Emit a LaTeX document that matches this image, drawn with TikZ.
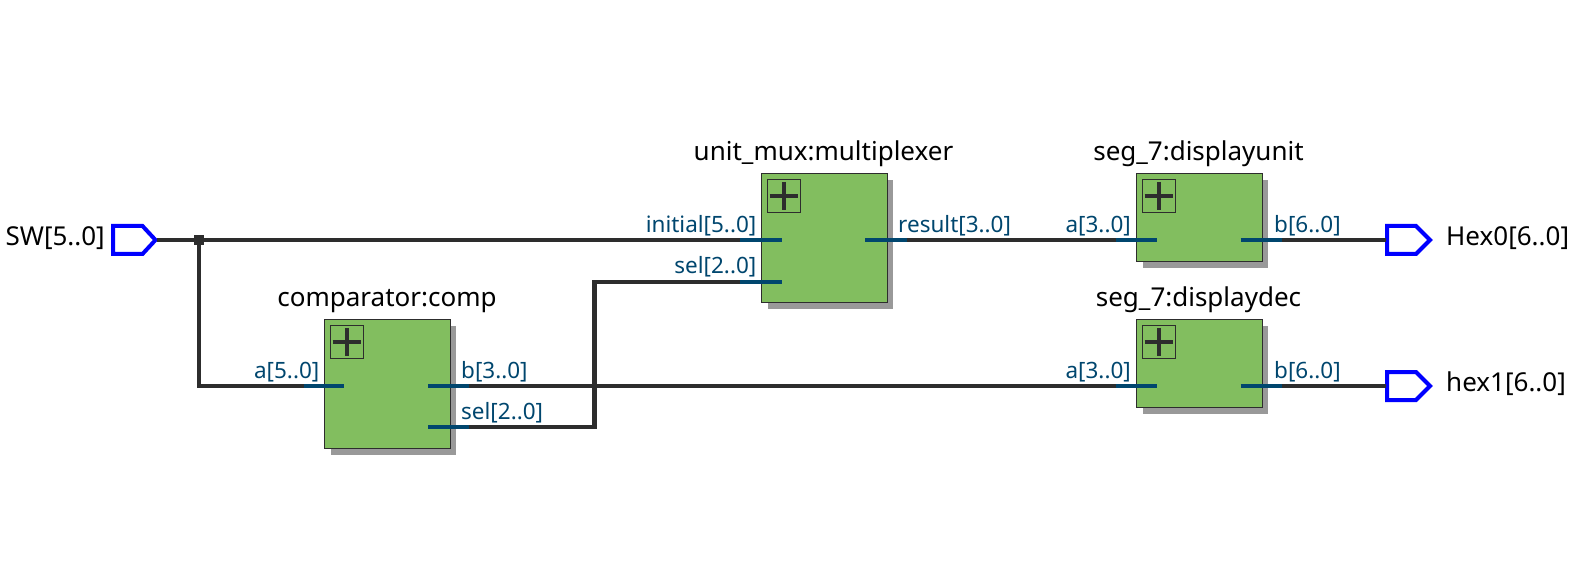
\documentclass[tikz,border=0pt]{standalone}
\usepackage{fontspec}
\setmainfont{Noto Sans}
\definecolor{wirec}{HTML}{2D2D2D}
\definecolor{portc}{HTML}{00466E}
\definecolor{blockc}{HTML}{82BE5F}
\definecolor{shadowc}{HTML}{999999}
\definecolor{pinc}{HTML}{0000FF}
\newcommand{\titlefont}{\fontsize{26}{30}\selectfont}
\newcommand{\ionamefont}{\fontsize{26}{30}\selectfont}
\newcommand{\portfont}{\fontsize{22.5}{26}\selectfont\color{portc}}
\tikzset{
  x=1pt,y=-1pt,
  wire/.style={draw=wirec,line width=4.4pt},
  stub/.style={draw=portc,line width=4.4pt},
  blockbox/.style={draw=wirec,line width=1pt,fill=blockc,rectangle,minimum width=#1,inner sep=0pt,anchor=north west},
  blockshadow/.style={fill=shadowc,draw=none},
  plusbox/.style={draw=wirec,line width=1pt,fill=none,rectangle,minimum size=33pt,inner sep=0pt,anchor=north west},
  plusbar/.style={draw=wirec,line width=4pt},
  pinshape/.style={draw=pinc,line width=4pt,fill=white,miter limit=4},
  titlelabel/.style={anchor=base,inner sep=0pt,font=\titlefont,text=black},
  pinlabel/.style={inner sep=0pt,font=\ionamefont,text=black},
  portlabel/.style={inner sep=0pt,font=\portfont},
  junction/.style={fill=wirec,draw=none,rectangle,minimum size=10pt,inner sep=0pt}
}
% \blockat{name}{x}{y}{w}{h}{title}{titlecx}{titlebaseline}
\newcommand{\blockat}[8]{%
  \fill[blockshadow] (#2+6.5,#3+6.5) rectangle (#2+#4+6.5,#3+#5+6.5);
  \node[blockbox=#4pt,minimum height=#5pt] (#1) at (#2,#3) {};
  \node[plusbox] (#1plus) at (#2+6,#3+6) {};
  \draw[plusbar] (#2+8.5,#3+22.5) -- (#2+36.5,#3+22.5);
  \draw[plusbar] (#2+22.5,#3+8.5) -- (#2+22.5,#3+36.5);
  \node[titlelabel] (#1title) at (#7,#8) {#6};
}
\begin{document}
\begin{tikzpicture}
\useasboundingbox (0,0) rectangle (1590,561);
% blocks
\blockat{comp}{324}{319.3}{125.5}{129}{comparator:comp}{387}{306.5}
\blockat{mux}{761}{173.3}{125.5}{129}{unit\_mux:multiplexer}{823.5}{160.7}
\blockat{unit}{1136.2}{173.3}{125.5}{88}{seg\_7:displayunit}{1198.5}{160.7}
\blockat{dec}{1136.2}{319.3}{125.5}{88}{seg\_7:displaydec}{1198.5}{306.5}
% pins
\draw[pinshape] (113,226) -- (142.5,226) -- (155.5,240) -- (142.5,254) -- (113,254) -- cycle;
\coordinate (swout) at (157,240);
\draw[pinshape] (1387,226) -- (1416,226) -- (1430,240) -- (1416,254) -- (1387,254) -- cycle;
\coordinate (hexzero) at (1385.5,240);
\draw[pinshape] (1387,372) -- (1416,372) -- (1430,386) -- (1416,400) -- (1387,400) -- cycle;
\coordinate (hexone) at (1385.5,386);
% port stubs ends
\coordinate (muxiniA) at (740,240);  \coordinate (muxiniB) at (782,240);
\coordinate (muxselA) at (740,282);  \coordinate (muxselB) at (782,282);
\coordinate (muxresA) at (865,240);  \coordinate (muxresB) at (907,240);
\coordinate (compaA) at (303.5,386); \coordinate (compaB) at (344,386);
\coordinate (compbA) at (428,386);   \coordinate (compbB) at (469,386);
\coordinate (compsA) at (428,427);   \coordinate (compsB) at (469,427);
\coordinate (unitaA) at (1115.5,240);\coordinate (unitaB) at (1157,240);
\coordinate (unitbA) at (1240.5,240);\coordinate (unitbB) at (1282,240);
\coordinate (decaA) at (1115.5,386); \coordinate (decaB) at (1157,386);
\coordinate (decbA) at (1240.5,386); \coordinate (decbB) at (1282,386);
\coordinate (jn) at (199,240);
% wires
\draw[wire] (swout) -- (muxiniA);
\draw[wire] (jn) -- (jn |- compaA) -- (compaA);
\draw[wire] (compsB) -| (594.3,282) -- (muxselA);
\draw[wire] (muxresB) -- (unitaA);
\draw[wire] (compbB) -- (decaA);
\draw[wire] (unitbB) -- (hexzero);
\draw[wire] (decbB) -- (hexone);
\node[junction] (jnbox) at (jn) {};
% stubs
\foreach \n in {muxini,muxsel,muxres,compa,compb,comps,unita,unitb,deca,decb}
  \draw[stub] (\n A) -- (\n B);
% port labels
\node[portlabel,anchor=base east] (lcompa) at (319.5,378.5) {a[5..0]};
\node[portlabel,anchor=base west] (lcompb) at (461,378.5) {b[3..0]};
\node[portlabel,anchor=base west] (lcomps) at (461,419.5) {sel[2..0]};
\node[portlabel,anchor=base east] (lmuxi) at (756.5,232.5) {initial[5..0]};
\node[portlabel,anchor=base east] (lmuxs) at (756.5,274) {sel[2..0]};
\node[portlabel,anchor=base west] (lmuxr) at (898,232.5) {result[3..0]};
\node[portlabel,anchor=base east] (lunita) at (1131,232.5) {a[3..0]};
\node[portlabel,anchor=base west] (lunitb) at (1274,232.5) {b[6..0]};
\node[portlabel,anchor=base east] (ldeca) at (1131,378.5) {a[3..0]};
\node[portlabel,anchor=base west] (ldecb) at (1274,378.5) {b[6..0]};
% pin labels
\node[pinlabel,anchor=base east] (lsw) at (105,245.7) {SW[5..0]};
\node[pinlabel,anchor=base west] (lhexzero) at (1446,245.7) {Hex0[6..0]};
\node[pinlabel,anchor=base west] (lhexone) at (1446,391.7) {hex1[6..0]};
\end{tikzpicture}
\end{document}
